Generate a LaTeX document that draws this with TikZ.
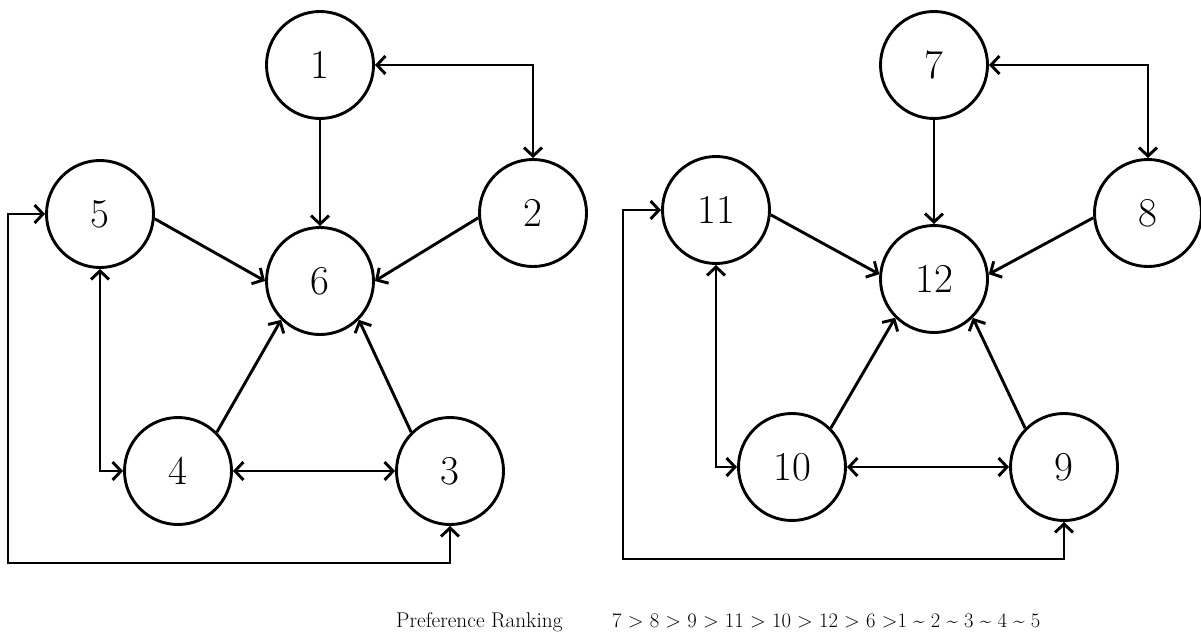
\documentclass[tikz,border=0pt]{standalone}
\usetikzlibrary{arrows.meta}
\begin{document}
\begin{tikzpicture}[x=1pt,y=-1pt,
  nd/.style={circle,draw,line width=2.9pt,minimum size=107pt,inner sep=0pt,font=\fontsize{41}{48}\selectfont},
  conn/.style={line width=2.9pt,line join=miter},
  tip/.tip={Straight Barb[length=8.5pt,width=18pt,line width=2.9pt]},
  lbl/.style={anchor=base west,inner sep=0pt}]
\useasboundingbox (0,0) rectangle (1201,632);
% left graph
\node[nd] (n1) at (320,65) {1};
\node[nd] (n2) at (533,213) {2};
\node[nd] (n5) at (100,214) {5};
\node[nd] (n6) at (320,281) {6};
\node[nd] (n4) at (178,471) {4};
\node[nd] (n3) at (450,471) {3};
\coordinate (l1) at (450,563);
\coordinate (l2) at (8,563);
\draw[conn,tip-tip] (n1.east) -| (n2.north);
\draw[conn,-tip] (n1.south) -- (n6.north);
\draw[conn,-tip] (n5.-5) -- (n6.180);
\draw[conn,-tip] (n2.185) -- (n6.0);
\draw[conn,-tip] (n4.45) -- (n6.225);
\draw[conn,-tip] (n3.135) -- (n6.315);
\draw[conn,tip-tip] (n4.east) -- (n3.west);
\draw[conn,tip-tip] (n5.south) |- (n4.west);
\draw[conn,tip-tip] (n3.south) -- (l1) -- (l2) |- (n5.west);
% right graph
\node[nd] (n7) at (934,65) {7};
\node[nd] (n8) at (1148,213) {8};
\node[nd] (n11) at (716,210) {11};
\node[nd] (n12) at (934,279) {12};
\node[nd] (n10) at (792,467) {10};
\node[nd] (n9) at (1064,467) {9};
\coordinate (r1) at (1064,559);
\coordinate (r2) at (623,559);
\draw[conn,tip-tip] (n7.east) -| (n8.north);
\draw[conn,-tip] (n7.south) -- (n12.north);
\draw[conn,-tip] (n11.-5) -- (n12.175);
\draw[conn,-tip] (n8.185) -- (n12.5);
\draw[conn,-tip] (n10.45) -- (n12.225);
\draw[conn,-tip] (n9.135) -- (n12.315);
\draw[conn,tip-tip] (n10.east) -- (n9.west);
\draw[conn,tip-tip] (n11.south) |- (n10.west);
\draw[conn,tip-tip] (n9.south) -- (r1) -- (r2) |- (n11.west);
% ranking text
\node[lbl,font=\fontsize{21.3}{24}\selectfont] (t1) at (396,627) {Preference Ranking};
\node[lbl,font=\fontsize{20.6}{24}\selectfont] (t2) at (612,627) {7 > 8 > 9 > 11 > 10 > 12 > 6 >1 \textasciitilde{} 2 \textasciitilde{} 3 \textasciitilde{} 4 \textasciitilde{} 5};
\end{tikzpicture}
\end{document}
